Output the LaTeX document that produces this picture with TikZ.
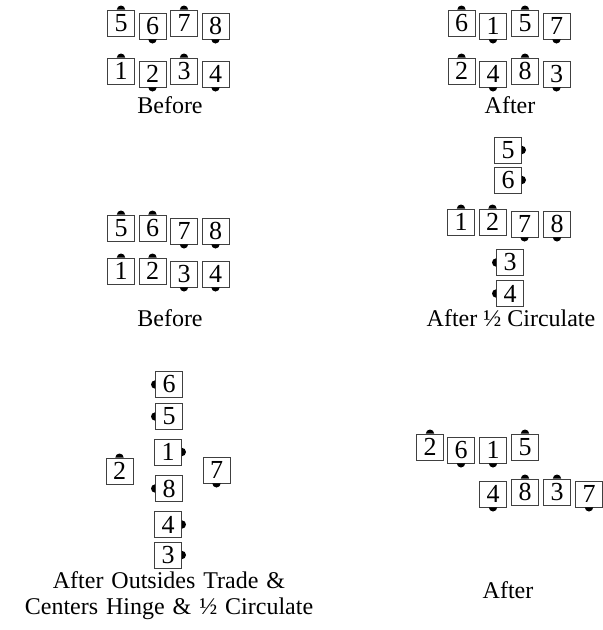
\documentclass[tikz,border=0pt]{standalone}
\usepackage{fontspec}
\setmainfont{Liberation Serif}
\tikzset{
  dbox/.style={draw=black!75, line width=0.6pt, fill=white, minimum width=27pt,
    minimum height=26pt, inner sep=0pt, font=\fontsize{26}{26}\selectfont},
  nose/.style={fill=black},
  caption/.style={font=\fontsize{24}{26}\selectfont, align=center}
}
% #1 name, #2 x, #3 y, #4 text, #5 facing angle
\newcommand\dancerbox[5]{%
  \node[dbox] (#1) at (#2,#3) {#4};
  \fill[nose] (#1.#5) ++(#5+90:4.2pt) arc[start angle=#5+90, end angle=#5-90, radius=4.2pt] -- cycle;
}
\begin{document}
\begin{tikzpicture}[x=1pt,y=-1pt]
\useasboundingbox (0,0) rectangle (603,630);
% Panel 1: Before
\dancerbox{aV}{121}{23}{5}{90}
\dancerbox{aVI}{152.5}{26}{6}{270}
\dancerbox{aVII}{184}{23}{7}{90}
\dancerbox{aVIII}{215.5}{26}{8}{270}
\dancerbox{aI}{121}{71}{1}{90}
\dancerbox{aII}{152.5}{74}{2}{270}
\dancerbox{aIII}{184}{71}{3}{90}
\dancerbox{aIV}{215.5}{74}{4}{270}
\node[caption] (la) at (170,105) {Before};
% Panel 2: After
\dancerbox{bVI}{461.5}{23}{6}{90}
\dancerbox{bI}{493}{26}{1}{270}
\dancerbox{bV}{525}{23}{5}{90}
\dancerbox{bVII}{556.5}{26}{7}{270}
\dancerbox{bII}{461.5}{71}{2}{90}
\dancerbox{bIV}{493}{74}{4}{270}
\dancerbox{bVIII}{525}{71}{8}{90}
\dancerbox{bIII}{556.5}{74}{3}{270}
\node[caption] (lb) at (510,105) {After};
% Panel 3: Before
\dancerbox{cV}{121}{228}{5}{90}
\dancerbox{cVI}{152.5}{228}{6}{90}
\dancerbox{cVII}{184}{231}{7}{270}
\dancerbox{cVIII}{215.5}{231}{8}{270}
\dancerbox{cI}{121}{271}{1}{90}
\dancerbox{cII}{152.5}{271}{2}{90}
\dancerbox{cIII}{184}{274}{3}{270}
\dancerbox{cIV}{215.5}{274}{4}{270}
\node[caption] (lc) at (170,318) {Before};
% Panel 4: After 1/2 Circulate
\dancerbox{dV}{508}{150}{5}{0}
\dancerbox{dVI}{508}{180}{6}{0}
\dancerbox{dI}{461}{222}{1}{90}
\dancerbox{dII}{492.5}{222}{2}{90}
\dancerbox{dVII}{524.5}{224}{7}{270}
\dancerbox{dVIII}{557}{224}{8}{270}
\dancerbox{dIII}{510}{262.5}{3}{180}
\dancerbox{dIV}{510}{293.5}{4}{180}
\node[caption] (ld) at (511,318) {After ½ Circulate};
% Panel 5: After Outsides Trade ...
\node[caption] (le) at (169,596) {\spaceskip=0.33em After Outsides Trade \&\\\spaceskip=0.33em Centers Hinge \& ½ Circulate};
\dancerbox{eVI}{169}{384.5}{6}{180}
\dancerbox{eV}{169}{416.5}{5}{180}
\dancerbox{eI}{168}{452}{1}{0}
\dancerbox{eII}{119.5}{471}{2}{90}
\dancerbox{eVII}{216.5}{470}{7}{270}
\dancerbox{eVIII}{169}{488.5}{8}{180}
\dancerbox{eIV}{168}{524.5}{4}{0}
\dancerbox{eIII}{168}{555}{3}{0}
% Panel 6: After
\dancerbox{fII}{430}{447}{2}{90}
\dancerbox{fVI}{461}{450}{6}{270}
\dancerbox{fI}{493}{450}{1}{270}
\dancerbox{fV}{525}{447}{5}{90}
\dancerbox{fIV}{493}{494}{4}{270}
\dancerbox{fVIII}{525}{492}{8}{90}
\dancerbox{fIII}{557}{492}{3}{90}
\dancerbox{fVII}{589}{494}{7}{270}
\node[caption] (lf) at (508,590) {After};
\end{tikzpicture}
\end{document}
